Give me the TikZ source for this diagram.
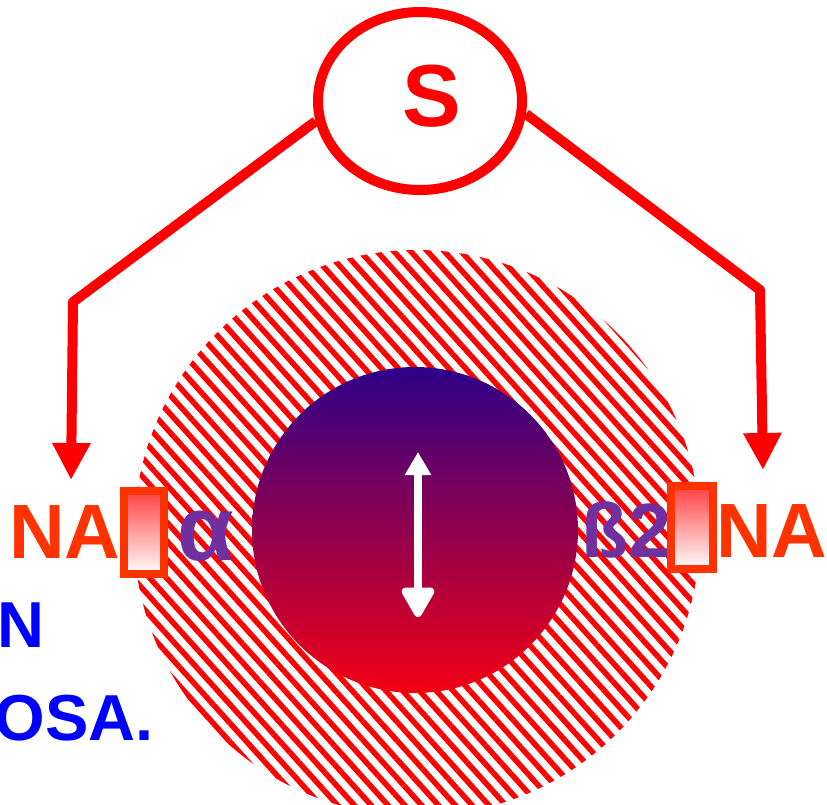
\documentclass[tikz,border=0pt]{standalone}
\usepackage{fontspec}
\setmainfont{Liberation Sans}
\usetikzlibrary{patterns.meta,arrows.meta,shapes.geometric}
\definecolor{nared}{HTML}{FF3300}
\definecolor{recpurple}{HTML}{7030A0}
\definecolor{blueT}{HTML}{0000FF}
\definecolor{ctop}{HTML}{2E0088}
\definecolor{cmid}{HTML}{98007A}
\definecolor{cbot}{HTML}{F20014}
\tikzset{
  conn/.style={draw=red, line width=10pt, line join=round, -{Triangle[width=36pt,length=37pt]}},
  recbox/.style={draw=nared, line width=8pt, top color=red!75, bottom color=white, inner sep=0pt, minimum width=40pt, minimum height=83pt},
  bigtxt/.style={font=\fontsize{77}{80}\selectfont\bfseries, inner sep=0pt, anchor=base},
  bluetxt/.style={font=\fontsize{65}{70}\selectfont\bfseries, text=blueT, inner sep=0pt, anchor=base east},
}
\begin{document}
\begin{tikzpicture}[x=1pt,y=-1pt]
\useasboundingbox (0,0) rectangle (827,804);
% hatched outer disc
\fill[pattern={Lines[angle=-48,distance=12.5pt,line width=5.5pt]}, pattern color=red] (417,533) circle[radius=283pt];
% inner gradient disc
\shade[top color=ctop, middle color=cmid, bottom color=cbot] (415,530) circle[radius=163pt];
% double arrow
\coordinate (atop) at (418,452);
\coordinate (abot) at (418,617);
\draw[white, line width=8pt, {Triangle[width=25pt,length=23pt]}-{Triangle[width=36pt,length=34pt,round]}] (atop) -- (abot);
% S ellipse
\node[ellipse, draw=red, line width=10pt, minimum width=204pt, minimum height=178pt, inner sep=0pt] (s) at (420,101) {};
\node[font=\fontsize{88}{90}\selectfont\bfseries, text=red, inner sep=0pt, anchor=base] (stext) at (432,126) {S};
% connectors
\coordinate (lc) at (73,302);
\coordinate (lt) at (71,480);
\coordinate (rc) at (760,290);
\coordinate (rt) at (763,470);
\draw[conn] (s.191) -- (lc) -- (lt);
\draw[conn] (s.353) -- (rc) -- (rt);
% left receptor
\node[bigtxt, text=nared] (naL) at (65,558) {NA};
\node[recbox] (boxL) at (144,532.5) {};
\node[font=\fontsize{92}{95}\selectfont\bfseries, text=recpurple, inner sep=0pt, anchor=base] (alpha) at (206,560) {α};
% right receptor
\node[bigtxt, text=recpurple] (beta) at (626,557) {ß2};
\node[recbox, minimum width=42pt] (boxR) at (692,527.5) {};
\node[bigtxt, text=nared] (naR) at (772,557) {NA};
% blue cut text
\node[bluetxt] (bn) at (45,647) {N};
\node[bluetxt] (bosa) at (154,740) {OSA.};
\end{tikzpicture}
\end{document}
